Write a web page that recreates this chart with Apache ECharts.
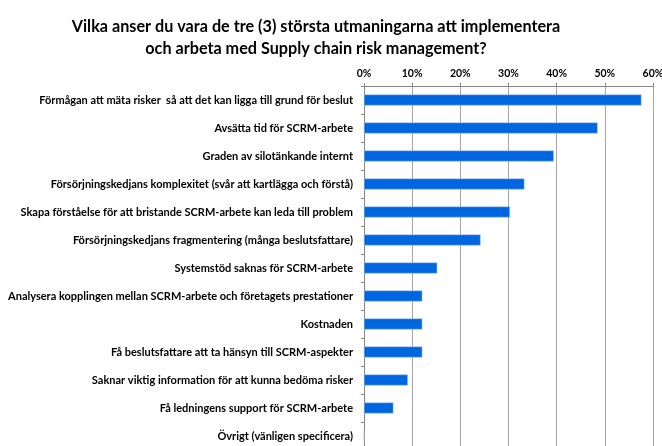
<!DOCTYPE html>
<html><head><meta charset="utf-8">
<script src="https://cdn.jsdelivr.net/npm/echarts@6/dist/echarts.min.js"></script>
<style>html,body{margin:0;padding:0;background:#fff}#c{width:662px;height:446px}</style>
</head><body><div id="c"></div>
<script>
const titleText = "Vilka anser du vara de tre (3) största utmaningarna att implementera\noch arbeta med Supply chain risk management?";
const categories = [
  "Förmågan att mäta risker  så att det kan ligga till grund för beslut",
  "Avsätta tid för SCRM-arbete",
  "Graden av silotänkande internt",
  "Försörjningskedjans komplexitet (svår att kartlägga och förstå)",
  "Skapa förståelse för att bristande SCRM-arbete kan leda till problem",
  "Försörjningskedjans fragmentering (många beslutsfattare)",
  "Systemstöd saknas för SCRM-arbete",
  "Analysera kopplingen mellan SCRM-arbete och företagets prestationer",
  "Kostnaden",
  "Få beslutsfattare att ta hänsyn till SCRM-aspekter",
  "Saknar viktig information för att kunna bedöma risker",
  "Få ledningens support för SCRM-arbete",
  "Övrigt (vänligen specificera)"
];
const values = [0.576, 0.485, 0.394, 0.333, 0.303, 0.242, 0.152, 0.121, 0.121, 0.121, 0.091, 0.061, 0];
const xTicks = [0, 0.1, 0.2, 0.3, 0.4, 0.5, 0.6];

const FONT = "Lato, 'Liberation Sans', Arial, sans-serif";
const chart = echarts.init(document.getElementById('c'), null, {renderer: 'canvas'});
chart.setOption({
  animation: false,
  backgroundColor: '#fff',
  title: {
    text: titleText, left: 311, top: 11, textAlign: 'center',
    textStyle: {fontFamily: FONT, fontWeight: 'bold', fontSize: 16.2, lineHeight: 22, color: '#000'}
  },
  grid: {left: 364, top: 86, width: 289, height: 364, containLabel: false, outerBoundsMode: 'none'},
  xAxis: {
    type: 'value', position: 'top', min: xTicks[0], max: xTicks[xTicks.length - 1], interval: 0.1,
    axisLine: {show: true, lineStyle: {color: '#888', width: 1}},
    axisTick: {show: true, length: 3, lineStyle: {color: '#888'}},
    splitLine: {show: true, lineStyle: {color: '#a6a6a6', width: 1}},
    axisLabel: {
      margin: 7, fontFamily: FONT, fontWeight: 'bold', fontSize: 10.5, color: '#000',
      formatter: v => Math.round(v * 100) + '%'
    }
  },
  yAxis: {
    type: 'category', inverse: true, data: categories,
    axisLine: {show: true, lineStyle: {color: '#888', width: 1}},
    axisTick: {show: true, length: 3, lineStyle: {color: '#888'}},
    axisLabel: {margin: 11, fontFamily: FONT, fontWeight: 'bold', fontSize: 11, color: '#000'}
  },
  series: [{
    type: 'bar', data: values, barWidth: 11,
    itemStyle: {color: '#0066e0', borderColor: '#a8c8f0', borderWidth: 0.5}
  }]
});
</script></body></html>
